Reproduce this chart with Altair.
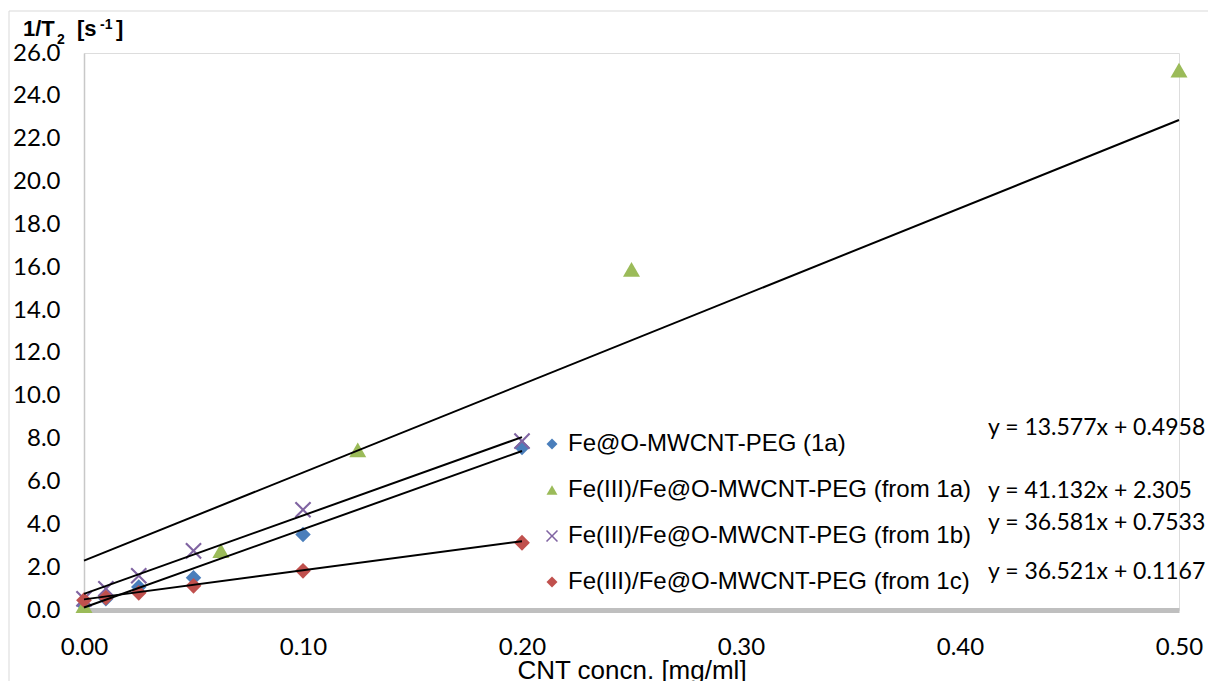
import altair as alt
import pandas as pd

# ---------------- data ----------------
series = [
    "Fe@O-MWCNT-PEG (1a)",
    "Fe(III)/Fe@O-MWCNT-PEG (from 1a)",
    "Fe(III)/Fe@O-MWCNT-PEG (from 1b)",
    "Fe(III)/Fe@O-MWCNT-PEG (from 1c)",
]
colors = ["#4A7EBB", "#9BBB59", "#8064A2", "#C0504D"]
# thin "x" drawn as a closed polygon so that it can be filled
x_path = ("M0.901,-1.099L1.099,-0.901L0.198,0L1.099,0.901L0.901,1.099L0,0.198"
          "L-0.901,1.099L-1.099,0.901L-0.198,0L-1.099,-0.901L-0.901,-1.099L0,-0.198Z")
shapes = ["diamond", "triangle-up", x_path, "diamond"]
marker_sizes = [240, 290, 230, 250]

x_six = [0.0, 0.01, 0.025, 0.05, 0.1, 0.2]
x_green = [0.0, 0.0625, 0.125, 0.25, 0.5]

y_1a = [0.22, 0.52, 1.07, 1.51, 3.52, 7.58]
y_from1a = [0.20, 2.77, 7.48, 15.9, 25.2]
y_from1b = [0.52, 0.99, 1.60, 2.76, 4.68, 7.88]
y_from1c = [0.46, 0.58, 0.80, 1.13, 1.83, 3.14]

# linear trend lines (as printed on the chart), drawn from 0 to the last point
slopes = [36.521, 41.132, 36.581, 13.577]
intercepts = [0.1167, 2.305, 0.7533, 0.4958]
fit_end = [0.2, 0.5, 0.2, 0.2]

equations = [
    "y = 13.577x + 0.4958",
    "y = 41.132x + 2.305",
    "y = 36.581x + 0.7533",
    "y = 36.521x + 0.1167",
]

y_ticks = [0, 2, 4, 6, 8, 10, 12, 14, 16, 18, 20, 22, 24, 26]
x_ticks = [0.0, 0.1, 0.2, 0.3, 0.4, 0.5]

# y-axis title pieces: 1/T_2 [s^-1]
title_parts = ["1/T", "2", "[s", "-1", "]"]

# ---------------- tables ----------------
pts = pd.concat([
    pd.DataFrame({"series": series[0], "x": x_six, "y": y_1a}),
    pd.DataFrame({"series": series[1], "x": x_green, "y": y_from1a}),
    pd.DataFrame({"series": series[2], "x": x_six, "y": y_from1b}),
    pd.DataFrame({"series": series[3], "x": x_six, "y": y_from1c}),
], ignore_index=True)

fit_rows = []
for s, m, b, e in zip(series, slopes, intercepts, fit_end):
    for xv in (0.0, e):
        fit_rows.append({"series": s, "x": xv, "m": m, "b": b})
fits = pd.DataFrame(fit_rows)

W, H = 1095, 557

x_enc = alt.X(
    "x:Q",
    scale=alt.Scale(domain=[0, 0.5], nice=False, zero=False),
    axis=alt.Axis(
        title="CNT concn. [mg/ml]",
        values=x_ticks,
        format=".2f",
        grid=False,
        ticks=False,
        domainColor="#bfbfbf",
        domainWidth=5,
        labelFont="Lato",
        labelFontSize=24,
        labelColor="#000000",
        labelPadding=25,
        labelFlush=False,
        titleFont="Liberation Sans",
        titleFontSize=26,
        titleFontWeight="normal",
        titleColor="#000000",
        titleBaseline="alphabetic",
        titleY=68,
    ),
)
y_enc = alt.Y(
    "y:Q",
    scale=alt.Scale(domain=[0, 26], nice=False),
    axis=alt.Axis(
        title=None,
        values=y_ticks,
        format=".1f",
        grid=False,
        ticks=False,
        domainColor="#c8c8c8",
        domainWidth=1.5,
        labelFont="Lato",
        labelFontSize=24,
        labelColor="#000000",
        labelPadding=24,
        labelFlush=False,
    ),
)

# per-series marker size (style), looked up in an expression
size_expr = "{}[indexof({}, datum.series)]".format(
    "[" + ",".join(str(v) for v in marker_sizes) + "]",
    "[" + ",".join("'" + s + "'" for s in series) + "]",
)

points = alt.Chart(pts).transform_calculate(msize=size_expr).mark_point(
    filled=True, opacity=1
).encode(
    x=x_enc,
    y=y_enc,
    color=alt.Color(
        "series:N",
        scale=alt.Scale(domain=series, range=colors),
        legend=alt.Legend(
            title=None,
            orient="none",
            legendX=456,
            legendY=379,
            labelFont="Liberation Sans",
            labelFontSize=24,
            labelColor="#000000",
            labelLimit=600,
            labelOffset=4,
            rowPadding=22,
            symbolSize=120,
            padding=0,
        ),
    ),
    shape=alt.Shape("series:N", scale=alt.Scale(domain=series, range=shapes)),
    size=alt.Size("msize:Q", scale=None),
)

lines = alt.Chart(fits).transform_calculate(
    yfit="datum.m * datum.x + datum.b"
).mark_line(color="#000000", strokeWidth=2).encode(
    x=alt.X("x:Q"),
    y=alt.Y("yfit:Q"),
    detail="series:N",
)

eq_y = [375, 438, 470, 519]
eq_layers = []
for txt, yy in zip(equations, eq_y):
    eq_layers.append(
        alt.Chart(pd.DataFrame({"t": [txt]})).mark_text(
            align="left", baseline="middle", font="Lato", fontSize=23, color="#000000"
        ).encode(x=alt.value(904), y=alt.value(yy), text="t:N")
    )

# y-axis title, built from pieces so that the sub/superscripts read as in the reference
t_x = [-61, -27, -7, 16, 32]
t_y = [-17, -9, -17, -24, -17]
t_size = [22, 14, 22, 14, 22]
title_layers = []
for txt, xx, yy, fs in zip(title_parts, t_x, t_y, t_size):
    title_layers.append(
        alt.Chart(pd.DataFrame({"t": [txt]})).mark_text(
            align="left", baseline="alphabetic", font="Liberation Sans",
            fontWeight="bold", fontSize=fs, color="#000000"
        ).encode(x=alt.value(xx), y=alt.value(yy), text="t:N")
    )

frame = alt.Chart(pd.DataFrame({"a": [0]})).mark_rect(
    fill="transparent", stroke="#d9d9d9", strokeWidth=1
).encode(x=alt.value(-75), x2=alt.value(1300), y=alt.value(-42), y2=alt.value(800))

chart = alt.layer(frame, points, lines, *eq_layers, *title_layers).properties(
    width=W,
    height=H,
    padding={"left": 76, "top": 45, "right": 29, "bottom": 71},
    autosize=alt.AutoSizeParams(type="none"),
).configure_view(stroke=None).configure(background="#ffffff")

chart.save("out.html", embed_options={"renderer": "svg", "actions": False})
